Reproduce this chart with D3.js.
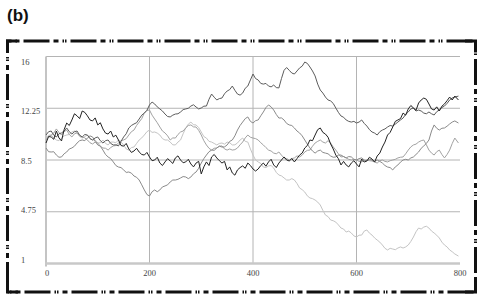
<!DOCTYPE html>
<html><head><meta charset="utf-8">
<script src="https://cdn.jsdelivr.net/npm/d3@7"></script>
<style>body{margin:0;background:#fff}svg{display:block}</style>
</head><body><svg id="c" width="484" height="305"></svg>
<script>
const panelLabel = "(b)";
const xTicks = [0, 200, 400, 600, 800];
const yTicks = [1, 4.75, 8.5, 12.25, 16];
const steps = d3.range(0, 791, 5).concat([797]);
const walkBlack = [9.73,10.2,10.17,10.0,10.6,10.1,9.88,10.7,11.18,11.0,11.4,11.85,11.7,11.5,12.05,11.95,11.7,11.4,11.33,11.55,11.04,11.2,10.75,10.45,10.38,10.6,10.17,10.3,9.95,9.55,9.5,9.7,9.3,9.05,9.15,9.35,9.08,8.9,8.86,9.05,8.72,8.45,8.5,8.7,8.28,8.1,8.36,8.6,8.43,8.25,8.65,8.8,8.5,8.3,8.36,8.55,8.21,8.0,8.28,8.4,7.49,8.0,8.36,8.1,8.72,8.9,8.65,8.45,8.28,8.4,7.78,8.0,7.56,7.4,7.78,7.95,8.07,7.9,8.28,8.1,7.85,7.7,7.85,8.1,8.28,8.05,8.36,8.55,8.14,7.95,8.28,8.5,8.72,8.5,8.43,8.6,8.36,8.6,8.86,9.0,9.37,9.55,9.95,9.9,10.31,10.7,10.82,10.5,10.38,10.15,9.66,9.3,8.86,8.6,8.14,8.4,8.14,8.0,8.28,8.45,8.21,8.0,8.57,8.35,8.43,8.7,8.57,8.35,8.79,9.0,9.44,9.8,10.31,10.5,10.89,11.3,11.4,11.5,11.9,11.75,12.2,12.45,12.27,12.1,12.63,12.85,12.99,12.9,12.56,12.2,12.12,12.35,12.05,12.4,12.56,12.8,13.06,12.85,13.13,12.85];
const walkDark = [10.31,10.55,10.6,10.3,10.17,10.4,10.46,10.6,10.82,10.55,10.38,10.55,10.6,10.3,10.17,10.35,10.31,10.05,9.95,10.1,10.17,9.9,9.73,9.9,9.95,9.7,9.59,9.6,9.52,9.85,10.17,10.4,10.82,11.0,11.11,11.2,11.47,11.75,11.9,12.1,12.49,12.7,12.56,12.35,12.2,12.05,11.83,11.65,11.62,11.75,11.83,11.85,11.98,12.15,12.2,12.25,12.41,12.5,12.34,12.2,12.27,12.4,12.41,12.9,13.28,13.05,12.85,12.95,12.99,13.3,13.5,13.6,13.86,13.55,13.28,13.2,13.35,13.7,13.86,14.3,14.73,14.4,14.3,14.05,14.0,14.05,13.86,13.8,13.93,13.75,13.72,14.4,15.0,15.2,15.0,14.8,14.73,14.95,15.17,15.3,15.6,15.5,15.24,14.95,14.59,14.0,13.57,13.35,13.06,12.85,12.78,12.6,12.27,11.95,11.69,11.6,11.4,11.3,11.25,11.3,11.18,11.25,11.4,11.15,10.96,10.7,10.53,10.45,10.31,10.55,10.67,10.75,10.89,11.0,10.96,11.1,11.25,11.4,11.54,11.8,11.98,12.2,12.27,12.05,12.12,12.05,11.9,11.85,11.98,11.85,11.76,12.0,12.12,12.3,12.41,12.6,12.85,13.0,13.06,13.13];
const walkMid = [9.37,9.1,9.08,9.1,8.86,8.7,8.72,8.95,9.08,9.3,9.37,9.5,9.73,9.9,9.95,9.9,10.09,10.25,10.17,9.85,9.59,9.5,9.22,8.9,8.72,8.6,8.36,8.1,7.99,7.95,7.78,7.6,7.63,7.55,7.34,7.25,7.05,6.7,6.33,6.0,5.89,6.2,6.33,6.2,6.33,6.55,6.62,6.7,6.91,7.05,7.05,7.1,7.2,7.3,7.27,7.15,7.27,7.5,7.63,7.9,8.28,8.6,8.86,9.1,9.22,9.2,9.37,9.5,9.44,9.45,9.59,9.85,9.95,10.25,10.67,11.0,11.25,11.5,11.62,11.3,11.18,11.35,11.4,11.7,11.98,12.3,12.49,12.35,12.12,11.8,11.54,11.55,11.4,11.15,11.04,11.0,10.82,10.6,10.46,10.25,9.95,9.65,9.37,9.15,9.0,9.15,9.22,9.05,9.0,8.95,8.79,8.7,8.72,8.85,8.86,8.75,8.65,8.75,8.72,8.55,8.5,8.6,8.65,8.5,8.43,8.55,8.5,8.4,8.5,8.4,8.28,8.1,7.99,7.95,7.78,8.0,8.14,8.35,8.5,8.55,8.5,8.65,8.72,8.9,9.08,9.35,9.52,9.7,9.95,10.6,11.04,10.8,10.67,10.8,10.82,10.95,11.11,11.25,11.33,11.18];
const walkLight = [9.95,10.2,10.31,10.45,10.75,10.5,10.31,10.55,10.67,10.35,10.17,10.4,10.46,10.25,10.17,10.1,9.95,9.75,9.66,9.8,9.73,9.5,9.37,9.35,9.22,9.4,9.52,9.55,9.73,9.9,9.95,10.05,10.31,10.55,10.67,11.0,11.25,11.5,11.9,12.1,12.12,11.75,11.47,11.2,10.89,10.6,10.46,10.25,9.95,10.1,10.09,10.35,10.53,10.6,10.82,11.0,11.04,10.9,10.89,10.65,10.31,9.9,9.59,9.35,9.22,9.35,9.37,9.5,9.52,9.3,9.22,9.3,9.22,9.25,9.37,9.6,9.8,10.1,10.31,10.15,10.09,10.05,9.95,9.75,9.59,9.4,9.22,9.15,9.0,8.95,9.08,8.85,8.65,8.6,8.5,8.6,8.65,8.8,8.72,8.85,9.08,9.2,9.22,9.5,9.73,9.85,9.95,9.8,9.73,9.9,9.73,9.45,9.22,8.95,8.72,8.75,8.65,8.55,8.5,8.55,8.5,8.4,8.36,8.45,8.5,8.45,8.43,8.35,8.28,8.45,8.5,8.4,8.36,8.45,8.5,8.55,8.65,8.7,8.72,8.95,9.22,9.45,9.59,9.65,9.8,9.9,9.95,9.6,9.22,9.0,8.86,9.1,9.22,8.9,8.65,8.9,9.22,9.7,10.09,9.73];
const walkPale = [10.09,10.3,10.31,10.1,9.95,9.9,10.09,10.25,10.31,10.35,10.53,10.6,10.46,10.2,10.09,10.2,10.31,10.05,9.95,9.95,9.73,9.75,9.95,9.7,9.59,9.8,9.8,9.75,9.95,9.8,9.59,9.3,9.22,9.4,9.44,9.7,9.95,10.1,10.31,10.55,10.67,10.5,10.53,10.45,10.31,10.05,9.95,9.95,9.8,9.6,9.59,9.8,9.95,10.4,10.82,11.1,11.25,11.05,11.04,10.85,10.53,10.2,10.09,9.85,9.8,9.7,9.59,9.7,9.73,9.65,9.8,9.75,9.59,9.6,9.73,9.95,10.09,9.85,9.8,9.3,8.86,8.5,8.36,8.25,7.99,7.95,8.07,8.1,7.92,7.6,7.41,7.35,7.2,7.05,7.05,7.15,7.05,6.8,6.47,6.35,6.18,5.9,5.75,5.7,5.6,5.45,5.24,4.85,4.51,4.4,4.15,4.1,4.0,3.8,3.57,3.5,3.28,3.35,3.21,3.0,2.92,3.05,3.06,3.35,3.43,3.2,3.06,2.85,2.7,2.55,2.34,2.1,1.98,2.1,2.05,2.0,2.12,2.2,2.12,2.2,2.34,2.6,2.92,3.3,3.57,3.5,3.64,3.7,3.57,3.35,3.21,3.05,2.85,2.55,2.34,2.2,1.98,1.85,1.69,1.54];
const seriesNames = ["pale", "light", "mid", "dark", "black"];
const seriesValues = [walkPale, walkLight, walkMid, walkDark, walkBlack];
const seriesColors = ["#c4c4c4", "#a2a2a2", "#8a8a8a", "#5c5c5c", "#222222"];
seriesValues.forEach((v, k) => { if (v.length !== steps.length) console.error(seriesNames[k], v.length, steps.length); });

const svg = d3.select("#c");
const x = d3.scaleLinear().domain([0, 800]).range([46, 460]);
const y = d3.scaleLinear().domain([1, 16]).range([263.5, 56.5]);
const yLabel = d3.scaleLinear().domain([1, 16]).range([259.5, 61.5]);

svg.append("text").attr("x", 7).attr("y", 21)
  .attr("font-family", "Liberation Sans, Arial, sans-serif").attr("font-weight", "bold")
  .attr("font-size", 17).attr("fill", "#111").text(panelLabel);

const fx0 = 7.5, fy0 = 41, fx1 = 475.5, fy1 = 292;
svg.append("rect").attr("x", fx0).attr("y", fy0).attr("width", fx1 - fx0).attr("height", fy1 - fy0)
  .attr("fill", "none").attr("stroke", "#111").attr("stroke-width", 3)
  .attr("stroke-dasharray", "26,4,5,4,1.5,1,1.5,4").attr("stroke-dashoffset", -16);
const arm = 9;
const corners = [[fx0, fy0, 1, 1], [fx1, fy0, -1, 1], [fx0, fy1, 1, -1], [fx1, fy1, -1, -1]];
corners.forEach(([cx, cy, sx, sy]) => {
  svg.append("path").attr("d", `M${cx + sx * arm},${cy}H${cx}V${cy + sy * arm}`)
    .attr("fill", "none").attr("stroke", "#111").attr("stroke-width", 3).attr("stroke-linecap", "square");
});

const g = svg.append("g");
g.selectAll("line.h").data(yTicks.filter(d => d !== 1)).join("line")
  .attr("x1", x(0)).attr("x2", x(800)).attr("y1", d => y(d)).attr("y2", d => y(d))
  .attr("stroke", "#b4b4b4").attr("stroke-width", 1);
g.selectAll("line.v").data(xTicks.filter(d => d !== 0 && d !== 800)).join("line")
  .attr("y1", y(16)).attr("y2", y(1)).attr("x1", d => x(d)).attr("x2", d => x(d))
  .attr("stroke", "#b4b4b4").attr("stroke-width", 1);

svg.append("line").attr("x1", x(0)).attr("x2", x(0)).attr("y1", y(16)).attr("y2", y(1) + 3)
  .attr("stroke", "#c4c4c4").attr("stroke-width", 2);
svg.append("line").attr("x1", x(0) - 1).attr("x2", x(800)).attr("y1", y(1)).attr("y2", y(1))
  .attr("stroke", "#c8c8c8").attr("stroke-width", 2.5);

svg.selectAll("text.yt").data(yTicks).join("text")
  .attr("x", 21).attr("y", d => yLabel(d) + 3)
  .attr("font-family", "Liberation Serif, Times New Roman, serif").attr("font-size", 8.5)
  .attr("fill", "#444").text(d => d);
svg.selectAll("text.xt").data(xTicks).join("text")
  .attr("x", d => x(d) + (d === 0 ? 1 : 0)).attr("y", 276).attr("text-anchor", "middle")
  .attr("font-family", "Liberation Serif, Times New Roman, serif").attr("font-size", 8.5)
  .attr("fill", "#444").text(d => d);

const line = d3.line().x((d, i) => x(steps[i])).y(d => y(d));
seriesValues.forEach((vals, k) => {
  svg.append("path").datum(vals).attr("d", line)
    .attr("fill", "none").attr("stroke", seriesColors[k]).attr("stroke-width", 1)
    .attr("stroke-linejoin", "round").attr("class", "s-" + seriesNames[k]);
});
</script></body></html>
